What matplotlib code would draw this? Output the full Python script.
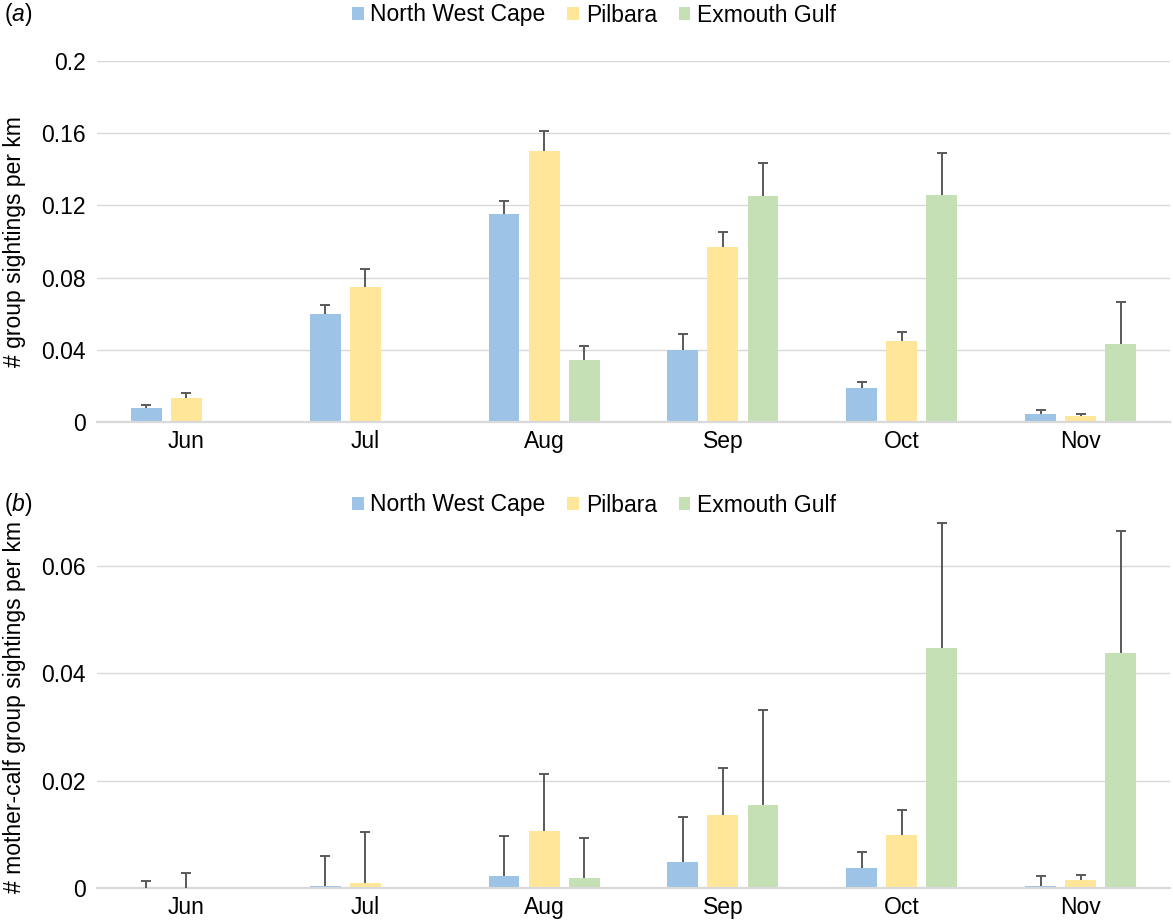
import matplotlib.pyplot as plt
import numpy as np

plt.rcParams['font.family'] = ['Liberation Sans', 'DejaVu Sans']
plt.rcParams['mathtext.fontset'] = 'custom'
plt.rcParams['mathtext.rm'] = 'Liberation Sans'
plt.rcParams['mathtext.it'] = 'Liberation Sans:italic'

months = ['Jun', 'Jul', 'Aug', 'Sep', 'Oct', 'Nov']
regions = ['North West Cape', 'Pilbara', 'Exmouth Gulf']
colors = ['#9DC3E6', '#FFE699', '#C5E0B4']

# (a) group sightings per km: mean and upper error
grp_nwc = [0.0078, 0.0598, 0.1152, 0.0400, 0.0188, 0.0044]
grp_pil = [0.0133, 0.0748, 0.1504, 0.0970, 0.0449, 0.0033]
grp_exm = [0.0, 0.0, 0.0343, 0.1252, 0.1258, 0.0432]
grp_nwc_err = [0.0016, 0.0052, 0.0075, 0.0088, 0.0032, 0.0022]
grp_pil_err = [0.0027, 0.0100, 0.0106, 0.0083, 0.0050, 0.0011]
grp_exm_err = [0.0, 0.0, 0.0077, 0.0183, 0.0232, 0.0233]

# (b) mother-calf group sightings per km
mc_nwc = [0.0, 0.0004, 0.0022, 0.0048, 0.0037, 0.0004]
mc_pil = [0.0, 0.0010, 0.0106, 0.0135, 0.0098, 0.0015]
mc_exm = [0.0, 0.0, 0.0019, 0.0154, 0.0446, 0.0437]
mc_nwc_err = [0.0013, 0.0056, 0.0075, 0.0085, 0.0030, 0.0018]
mc_pil_err = [0.0028, 0.0094, 0.0107, 0.0089, 0.0048, 0.0009]
mc_exm_err = [0.0, 0.0, 0.0074, 0.0177, 0.0234, 0.0227]

FS = 16.5
W, H = 1173, 923

fig = plt.figure(figsize=(11.73, 9.23), dpi=100)
ax_a = fig.add_axes([97 / W, 1 - 422 / H, 1073 / W, 361 / H])
ax_b = fig.add_axes([97 / W, 1 - 888 / H, 1073 / W, 376 / H])

x = np.arange(len(months))
w = 0.173
off = 0.224


def draw(ax, vals, errs, ymax, ticks, ticklabels, ylabel, tag, leg_y, ylab_y):
    for i, (v, e) in enumerate(zip(vals, errs)):
        pos = x + (i - 1) * off
        v = np.array(v)
        e = np.array(e)
        ax.bar(pos, v, width=w, color=colors[i], label=regions[i], zorder=2)
        m = e > 0
        eb = ax.errorbar(pos[m], v[m], yerr=[np.zeros(m.sum()), e[m]],
                         fmt='none', ecolor='#595959', elinewidth=1.4,
                         capsize=3.5, capthick=1.4, zorder=3)
        eb[1][0].set_visible(False)
    ax.set_xlim(-0.5, len(months) - 0.5)
    ax.set_ylim(0, ymax)
    ax.set_yticks(ticks)
    ax.set_yticklabels(ticklabels)
    ax.set_xticks(x)
    ax.set_xticklabels(months)
    ax.grid(axis='y', color='#D9D9D9', linewidth=1, zorder=0)
    ax.set_axisbelow(True)
    for s in ['top', 'right', 'left']:
        ax.spines[s].set_visible(False)
    ax.spines['bottom'].set_color('#D9D9D9')
    ax.spines['bottom'].set_linewidth(1.6)
    ax.tick_params(length=0, labelsize=FS, colors='black')
    ax.tick_params(axis='y', pad=8)
    ax.tick_params(axis='x', pad=6)
    ax.legend(loc='center', bbox_to_anchor=(594 / W, 1 - leg_y / H),
              bbox_transform=fig.transFigure, ncol=3, frameon=False,
              fontsize=FS, handlelength=0.5, handleheight=0.5,
              handletextpad=0.3, columnspacing=0.95, borderaxespad=0)
    fig.text(15 / W, 1 - ylab_y / H, ylabel, rotation=90, ha='center',
             va='center', fontsize=FS)
    fig.text(4 / W, 1 - leg_y / H, '($\\it{' + tag + '}$)', ha='left',
             va='center', fontsize=FS)


draw(ax_a, [grp_nwc, grp_pil, grp_exm],
     [grp_nwc_err, grp_pil_err, grp_exm_err], 0.2,
     [0, 0.04, 0.08, 0.12, 0.16, 0.2],
     ['0', '0.04', '0.08', '0.12', '0.16', '0.2'],
     '# group sightings per km', 'a', 15, 242)
draw(ax_b, [mc_nwc, mc_pil, mc_exm],
     [mc_nwc_err, mc_pil_err, mc_exm_err], 0.07,
     [0, 0.02, 0.04, 0.06], ['0', '0.02', '0.04', '0.06'],
     '# mother-calf group sightings per km', 'b', 505, 707)

fig.savefig('out.png', dpi=100)
